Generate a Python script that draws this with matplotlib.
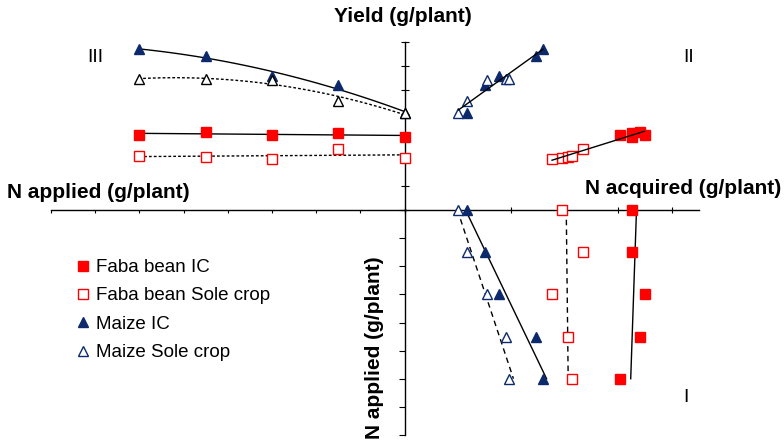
import numpy as np
import matplotlib
matplotlib.use("Agg")
import matplotlib.pyplot as plt
from matplotlib.lines import Line2D

plt.rcParams['font.family'] = ['Liberation Sans', 'DejaVu Sans']

# ---------------- data ----------------
n_applied = [0, 1.5, 3, 4.5, 6]

yield_faba_ic = [3.05, 3.19, 3.125, 3.26, 3.125]
yield_faba_sole = [2.18, 2.54, 2.12, 2.22, 2.25]
yield_maize_ic = [4.05, 5.2, 5.58, 6.42, 6.7]
yield_maize_sole = [4.04, 4.54, 5.4, 5.46, 5.46]

nacq_faba_ic = [4.25, 4.25, 4.49, 4.40, 4.04]
nacq_faba_sole = [2.94, 3.34, 2.76, 3.05, 3.13]
nacq_maize_ic = [1.17, 1.51, 1.77, 2.46, 2.59]
nacq_maize_sole = [1.01, 1.16, 1.55, 1.90, 1.95]

legend_labels = ["Faba bean IC", "Faba bean Sole crop", "Maize IC", "Maize Sole crop"]

RED = '#FF0000'
NAVY = '#0C2A6B'

W, H = 784, 445
fig = plt.figure(figsize=(W / 100, H / 100), dpi=100)

def rect(x0, x1, ytop, ybot):
    return [x0 / W, 1 - ybot / H, (x1 - x0) / W, (ybot - ytop) / H]

ox, oy = 404.5, 210
ax3 = fig.add_axes(rect(51, ox, 42, oy))     # quadrant III
ax2 = fig.add_axes(rect(ox, 698.5, 42, oy))  # quadrant II
ax1 = fig.add_axes(rect(ox, 698.5, oy, 435))  # quadrant I

for a in (ax1, ax2, ax3):
    a.patch.set_alpha(0)
    for s in a.spines.values():
        s.set_visible(False)
        s.set_linewidth(1.0)
    a.set_xticklabels([])
    a.set_yticklabels([])

# Quadrant III: N applied (leftwards) vs yield
ax3.set_xlim(8, 0)
ax3.set_ylim(0, 7)
ax3.spines['bottom'].set_visible(True)
ax3.spines['right'].set_visible(True)
ax3.xaxis.set_ticks(np.arange(0, 9, 1))
ax3.yaxis.set_ticks(np.arange(0, 8, 1))
ax3.yaxis.tick_right()
ax3.tick_params(axis='x', direction='out', length=2.5, width=0.8, labelbottom=False)
ax3.tick_params(axis='y', direction='inout', length=6, width=0.8, labelright=False, labelleft=False)

# Quadrant II: N acquired vs yield
ax2.set_xlim(0, 5.5)
ax2.set_ylim(0, 7)
ax2.spines['bottom'].set_visible(True)
ax2.xaxis.set_ticks(np.arange(0, 6, 1))
ax2.yaxis.set_ticks([])
ax2.tick_params(axis='x', direction='inout', length=5, width=0.8, labelbottom=False)

# Quadrant I: N acquired vs N applied (downwards)
ax1.set_xlim(0, 5.5)
ax1.set_ylim(8, 0)
ax1.spines['left'].set_visible(True)
ax1.xaxis.set_ticks([])
ax1.yaxis.set_ticks(np.arange(0, 9, 1))
ax1.tick_params(axis='y', direction='out', length=4, width=0.8, labelleft=False)

ms = 7
def pts(a, x, y, marker, color, filled):
    a.plot(x, y, linestyle='none', marker=marker, markersize=ms,
           markerfacecolor=color if filled else 'white',
           markeredgecolor=color, markeredgewidth=1.0, clip_on=False, zorder=5)

# ---- Quadrant III ----
xs = np.linspace(0, 6, 100)
for yv, ls, deg in [(yield_maize_ic, '-', 2), (yield_maize_sole, (0, (2, 1.5)), 2),
                    (yield_faba_ic, '-', 1), (yield_faba_sole, (0, (2, 1.5)), 1)]:
    c = np.polyfit(n_applied, yv, deg)
    ax3.plot(xs, np.polyval(c, xs), color='black', lw=1.0, ls=ls, clip_on=False, zorder=3)
pts(ax3, n_applied, yield_faba_ic, 's', RED, True)
pts(ax3, n_applied, yield_faba_sole, 's', RED, False)
pts(ax3, n_applied, yield_maize_ic, '^', NAVY, True)
pts(ax3, n_applied, yield_maize_sole, '^', 'black', False)

# ---- Quadrant II ----
for xa, ya in [(nacq_maize_ic + nacq_maize_sole, yield_maize_ic + yield_maize_sole),
               (nacq_faba_ic + nacq_faba_sole, yield_faba_ic + yield_faba_sole)]:
    c = np.polyfit(xa, ya, 1)
    xx = np.array([min(xa), max(xa)])
    ax2.plot(xx, np.polyval(c, xx), color='black', lw=1.0, zorder=6)
pts(ax2, nacq_faba_ic, yield_faba_ic, 's', RED, True)
pts(ax2, nacq_faba_sole, yield_faba_sole, 's', RED, False)
pts(ax2, nacq_maize_ic, yield_maize_ic, '^', NAVY, True)
pts(ax2, nacq_maize_sole, yield_maize_sole, '^', NAVY, False)

# ---- Quadrant I ----
ny = np.array([0, 6])
for xv, ls in [(nacq_maize_ic, '-'), (nacq_maize_sole, (0, (4, 3))),
               (nacq_faba_ic, '-'), (nacq_faba_sole, (0, (4, 3)))]:
    c = np.polyfit(n_applied, xv, 1)
    ax1.plot(np.polyval(c, ny), ny, color='black', lw=1.0, ls=ls, zorder=3)
pts(ax1, nacq_faba_ic, n_applied, 's', RED, True)
pts(ax1, nacq_faba_sole, n_applied, 's', RED, False)
pts(ax1, nacq_maize_ic, n_applied, '^', NAVY, True)
pts(ax1, nacq_maize_sole, n_applied, '^', NAVY, False)

# ---- texts ----
def ftxt(x, y, s, **kw):
    fig.text(x / W, 1 - y / H, s, **kw)

ftxt(403, 17, "Yield (g/plant)", ha='center', va='center', fontsize=15, fontweight='bold')
ftxt(7, 193, "N applied (g/plant)", ha='left', va='center', fontsize=15, fontweight='bold')
ftxt(781, 188, "N acquired (g/plant)", ha='right', va='center', fontsize=15, fontweight='bold')
ftxt(375, 348, "N applied (g/plant)", ha='center', va='center', fontsize=15,
     fontweight='bold', rotation=90)
ftxt(95, 58, "III", ha='center', va='center', fontsize=14)
ftxt(689, 58, "II", ha='center', va='center', fontsize=14)
ftxt(686, 397, "I", ha='center', va='center', fontsize=14)

# ---- legend ----
handles = [
    Line2D([], [], ls='none', marker='s', ms=6.5, mfc=RED, mec=RED),
    Line2D([], [], ls='none', marker='s', ms=6.5, mfc='white', mec=RED, mew=1.0),
    Line2D([], [], ls='none', marker='^', ms=6.5, mfc=NAVY, mec=NAVY),
    Line2D([], [], ls='none', marker='^', ms=6.5, mfc='white', mec=NAVY, mew=1.0),
]
fig.legend(handles, legend_labels, loc='upper left', bbox_to_anchor=(77 / W, 1 - 259 / H),
           frameon=False, fontsize=13.5, handlelength=0.6, handletextpad=0.4,
           labelspacing=0.6, borderpad=0, borderaxespad=0)

fig.savefig("out.png", dpi=100)
